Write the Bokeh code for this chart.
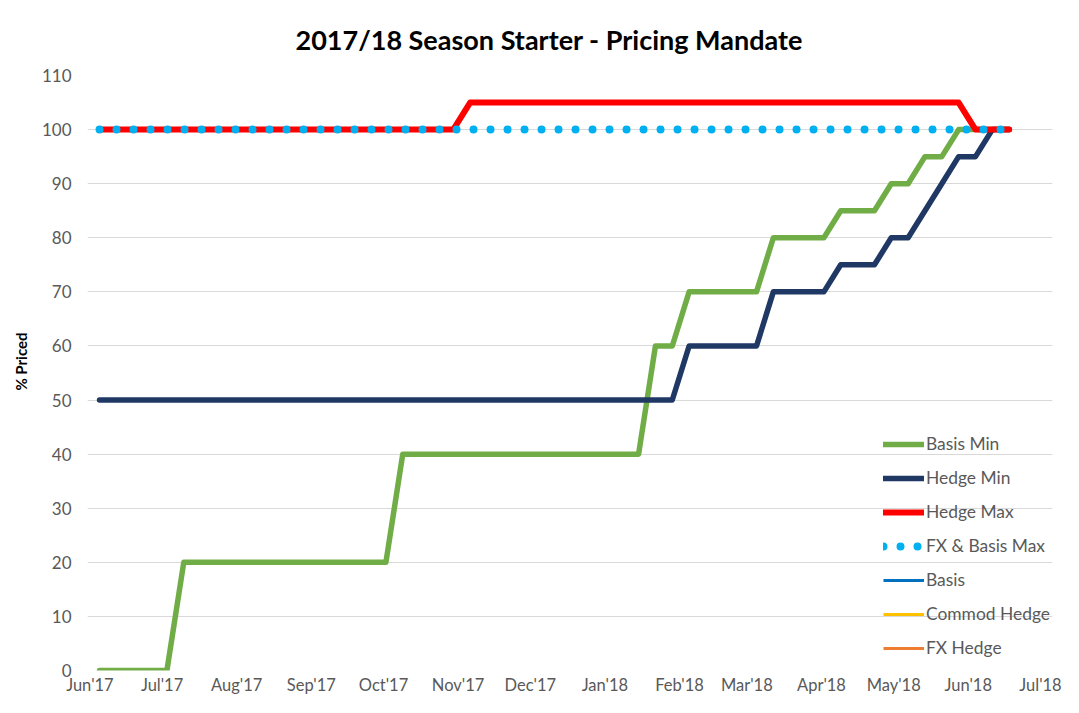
import pandas as pd
from bokeh.plotting import figure
from bokeh.models import (Range1d, FixedTicker, DatetimeTickFormatter, Legend,
                          LegendItem, Title)
from bokeh.embed import file_html
from bokeh.resources import INLINE

# ---------------- data ----------------
title_text = "2017/18 Season Starter - Pricing Mandate"
y_label = "% Priced"

# weekly observation dates (Mondays)
week_dates = list(pd.date_range("2017-06-05", periods=55, freq="7D"))

basis_min = [0, 0, 0, 0, 0,
             20, 20, 20, 20, 20, 20, 20, 20, 20, 20, 20, 20, 20,
             40, 40, 40, 40, 40, 40, 40, 40, 40, 40, 40, 40, 40, 40, 40,
             60, 60,
             70, 70, 70, 70, 70,
             80, 80, 80, 80,
             85, 85, 85,
             90, 90,
             95, 95,
             100, 100, 100, 100]

hedge_min = [50, 50, 50, 50, 50, 50, 50, 50, 50, 50, 50, 50, 50, 50, 50,
             50, 50, 50, 50, 50, 50, 50, 50, 50, 50, 50, 50, 50, 50, 50,
             50, 50, 50, 50, 50,
             60, 60, 60, 60, 60,
             70, 70, 70, 70,
             75, 75, 75,
             80, 80,
             85, 90, 95, 95,
             100, 100]

hedge_max = [100, 100, 100, 100, 100, 100, 100, 100, 100, 100, 100,
             100, 100, 100, 100, 100, 100, 100, 100, 100, 100, 100,
             105, 105, 105, 105, 105, 105, 105, 105, 105, 105,
             105, 105, 105, 105, 105, 105, 105, 105, 105, 105,
             105, 105, 105, 105, 105, 105, 105, 105, 105, 105,
             100, 100, 100]

fx_basis_max = [100, 100, 100, 100, 100, 100, 100, 100, 100, 100, 100,
                100, 100, 100, 100, 100, 100, 100, 100, 100, 100, 100,
                100, 100, 100, 100, 100, 100, 100, 100, 100, 100, 100,
                100, 100, 100, 100, 100, 100, 100, 100, 100, 100, 100,
                100, 100, 100, 100, 100, 100, 100, 100, 100, 100, 100]

# series shown only in the legend (no values plotted)
basis = [None]
commod_hedge = [None]
fx_hedge = [None]

month_ticks = ["2017-06-01", "2017-07-01", "2017-08-01", "2017-09-01",
               "2017-10-01", "2017-11-01", "2017-12-01", "2018-01-01",
               "2018-02-01", "2018-03-01", "2018-04-01", "2018-05-01",
               "2018-06-01", "2018-07-01"]
y_ticks = [0, 10, 20, 30, 40, 50, 60, 70, 80, 90, 100, 110]

# ---------------- figure ----------------
FONT = "Lato"
GRID = "#D9D9D9"
TXT = "#595959"

x_start = pd.Timestamp("2017-05-31")
x_end = pd.Timestamp("2018-07-06")

p = figure(width=1063, height=697, output_backend="svg", toolbar_location=None,
           x_axis_type="datetime",
           x_range=Range1d(x_start, x_end), y_range=Range1d(0, 110),
           min_border_left=85, min_border_right=11, min_border_top=75,
           min_border_bottom=25)
p.background_fill_color = "white"
p.border_fill_color = "white"
p.outline_line_color = None

p.title.text = title_text
p.title.align = "left"
p.title.offset = 208
p.title.standoff = 40
p.title.text_font = FONT
p.title.text_font_style = "bold"
p.title.text_font_size = "27px"
p.title.text_color = "#000000"

# axes
tick_ms = [pd.Timestamp(t).value / 1e6 for t in month_ticks]
p.xaxis.ticker = FixedTicker(ticks=tick_ms)
fmt = "%b'%y"
p.xaxis.formatter = DatetimeTickFormatter(
    microseconds=fmt, milliseconds=fmt, seconds=fmt, minsec=fmt, minutes=fmt,
    hourmin=fmt, hours=fmt, days=fmt, months=fmt, years=fmt)
p.yaxis.ticker = FixedTicker(ticks=y_ticks)

for ax in (p.xaxis[0], p.yaxis[0]):
    ax.axis_line_color = None
    ax.major_tick_line_color = None
    ax.minor_tick_line_color = None
    ax.major_tick_out = 0
    ax.major_tick_in = 0
    ax.minor_tick_out = 0
    ax.minor_tick_in = 0
    ax.major_label_text_font = FONT
    ax.major_label_text_color = TXT
p.xaxis.major_label_text_font_size = "16.5px"
p.yaxis.major_label_text_font_size = "17px"
p.xaxis.major_label_standoff = 4
p.yaxis.major_label_standoff = 16

# y-axis title, placed like the original (above the plot's vertical centre)
ytitle = Title(text=y_label, align="right", offset=257, standoff=18,
               text_font=FONT, text_font_style="bold", text_font_size="15px",
               text_color="#000000")
p.add_layout(ytitle, "left")

p.xgrid.grid_line_color = None
p.ygrid.grid_line_color = GRID
p.ygrid.grid_line_width = 1

# ---------------- series ----------------
r_basis_min = p.line(week_dates, basis_min, line_color="#70AD47", line_width=5.5,
                     line_join="round", line_cap="round")
r_hedge_min = p.line(week_dates, hedge_min, line_color="#203864", line_width=5.5,
                     line_join="round", line_cap="round")
r_hedge_max = p.line(week_dates, hedge_max, line_color="#FF0000", line_width=6,
                     line_join="round", line_cap="round")
r_fx_basis = p.line(week_dates, fx_basis_max, line_color="#00B0F0", line_width=8,
                    line_dash="0 17", line_cap="round")
r_basis = p.line(week_dates[:1], basis, line_color="#0070C0", line_width=3)
r_commod = p.line(week_dates[:1], commod_hedge, line_color="#FFC000", line_width=3)
r_fx_hedge = p.line(week_dates[:1], fx_hedge, line_color="#ED7D31", line_width=3)

legend = Legend(items=[
    LegendItem(label="Basis Min", renderers=[r_basis_min]),
    LegendItem(label="Hedge Min", renderers=[r_hedge_min]),
    LegendItem(label="Hedge Max", renderers=[r_hedge_max]),
    LegendItem(label="FX & Basis Max", renderers=[r_fx_basis]),
    LegendItem(label="Basis", renderers=[r_basis]),
    LegendItem(label="Commod Hedge", renderers=[r_commod]),
    LegendItem(label="FX Hedge", renderers=[r_fx_hedge]),
])
legend.location = (796, 12)
legend.glyph_width = 41
legend.glyph_height = 20
legend.label_height = 20
legend.spacing = 13
legend.padding = 0
legend.margin = 0
legend.label_standoff = 2
legend.border_line_alpha = 0
legend.background_fill_alpha = 0
legend.label_text_font = FONT
legend.label_text_font_size = "17.4px"
legend.label_text_color = TXT
p.add_layout(legend)

open("out.html", "w").write(file_html(p, INLINE))
